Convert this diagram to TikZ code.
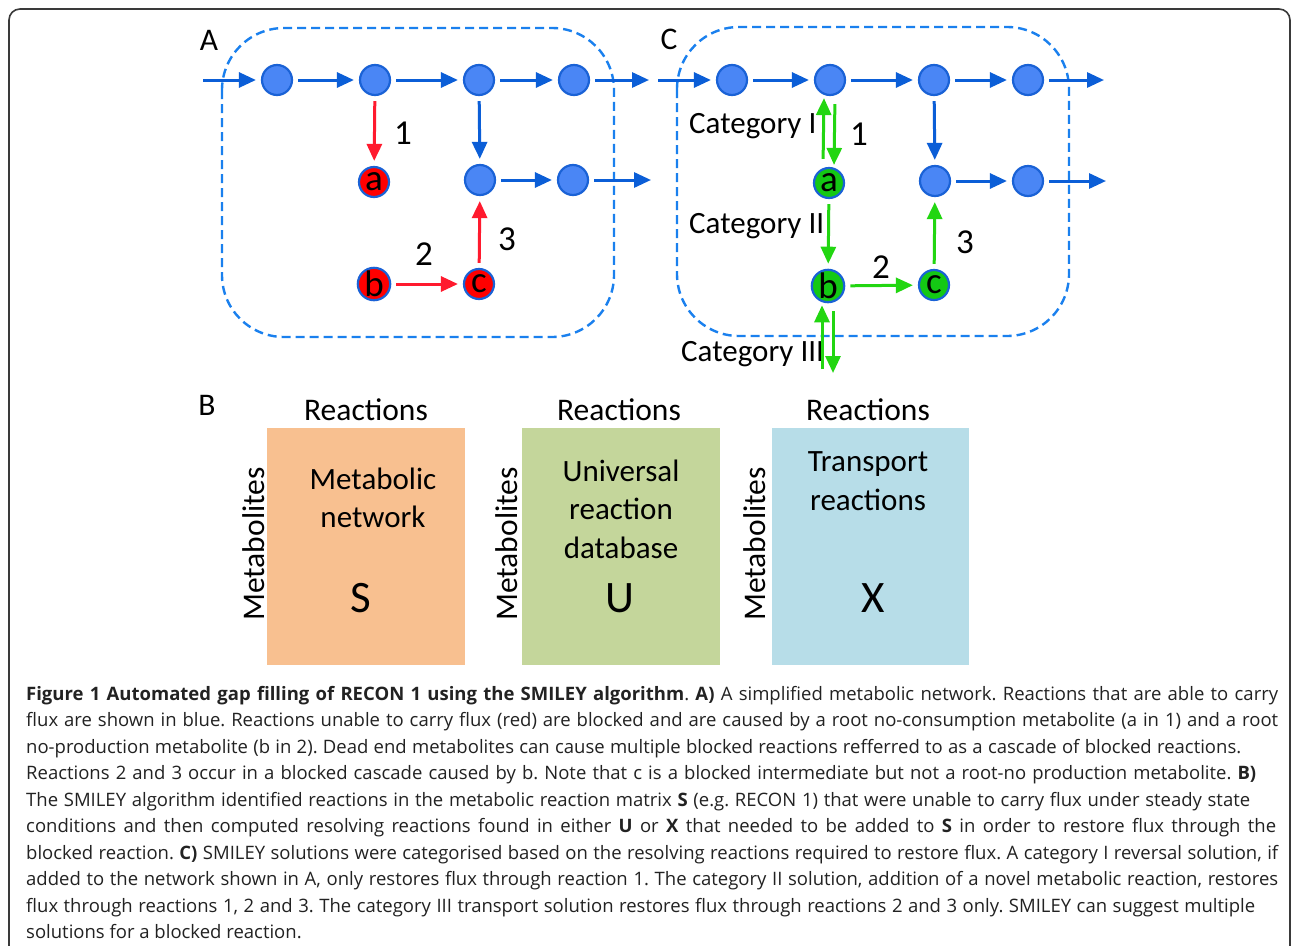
\documentclass[tikz,border=0pt]{standalone}
\usepackage{fontspec}
\setmainfont{Carlito}
\newfontfamily\capfont{Open Sans}
\usetikzlibrary{arrows.meta}
\frenchspacing
\definecolor{bfill}{HTML}{4A86F5}
\definecolor{bline}{HTML}{1A62D6}
\definecolor{barr}{HTML}{0B5ED7}
\definecolor{rarr}{HTML}{FF1A2E}
\definecolor{garr}{HTML}{22D611}
\definecolor{gfill}{HTML}{14C814}
\definecolor{dash}{HTML}{1A80EE}
\definecolor{orbox}{HTML}{F8C090}
\definecolor{grbox}{HTML}{C4D69B}
\definecolor{blbox}{HTML}{B7DDE8}
\definecolor{frame}{HTML}{3A3A3A}
\definecolor{captext}{HTML}{222222}
\tikzset{
  met/.style={circle,minimum size=30pt,inner sep=0pt,draw=bline,line width=2.2pt,fill=bfill},
  redmet/.style={met,fill=red,font=\fontsize{37}{37}\selectfont,text=black},
  grnmet/.style={met,fill=gfill,font=\fontsize{37}{37}\selectfont,text=black},
  tipa/.style={-{Triangle[length=17pt,width=15pt]},line width=3pt,shorten <=5pt,shorten >=5pt},
  barrow/.style={tipa,draw=barr},
  rarrow/.style={tipa,draw=rarr},
  garrow/.style={tipa,draw=garr},
  lbl/.style={font=\fontsize{31.5}{31.5}\selectfont,inner sep=0pt},
  catl/.style={font=\fontsize{31}{31}\selectfont,inner sep=0pt,anchor=west},
  num/.style={font=\fontsize{35}{35}\selectfont,inner sep=0pt},
  region/.style={draw=dash,line width=2.4pt,dash pattern=on 9pt off 5pt,rounded corners=62pt},
  capline/.style={anchor=base west,inner sep=0pt,text=captext,font=\capfont\fontsize{18.5}{18.5}\selectfont},
}
\newcommand{\cl}[2]{\makebox[#1pt][s]{#2}}
\begin{document}
\begin{tikzpicture}[x=1pt,y=-1pt]
\useasboundingbox (0,0) rectangle (1292,945);
\fill[white] (0,0) rectangle (1292,945);
% frame
\draw[frame,line width=1.6pt,rounded corners=11pt] (9,946) -- (9,9) -- (1290,9) -- (1290,946);

% ===== Panel A =====
\draw[region] (222,28) rectangle (614,337);
\node[lbl] (labA) at (209,40) {A};
\node[met] (a1) at (277,80) {};
\node[met] (a2) at (375,80) {};
\node[met] (a3) at (479,80) {};
\node[met] (a4) at (574,80) {};
\node[met] (a5) at (480,180) {};
\node[met] (a6) at (573,180) {};
\node[redmet] (aa) at (374,182) {a};
\node[redmet] (ab) at (374,284) {b};
\node[redmet] (ac) at (479,284) {c};
\coordinate (ain) at (203,80);
\coordinate (aout1) at (649,80);
\coordinate (aout2) at (651,180);
\draw[barrow,shorten <=0pt] (ain) -- (a1);
\draw[barrow] (a1) -- (a2);
\draw[barrow] (a2) -- (a3);
\draw[barrow] (a3) -- (a4);
\draw[barrow,shorten >=0pt] (a4) -- (aout1);
\draw[barrow] (a3) -- (a5);
\draw[barrow] (a5) -- (a6);
\draw[barrow,shorten >=0pt] (a6) -- (aout2);
\draw[rarrow] (a2) -- (aa);
\draw[rarrow] (ab) -- (ac);
\draw[rarrow] (ac) -- (a5);
\node[num] (n1A) at (403,133) {1};
\node[num] (n2A) at (424,254) {2};
\node[num] (n3A) at (507,239) {3};

% ===== Panel C =====
\draw[region] (677,27) rectangle (1069,336);
\node[lbl] (labC) at (669,39) {C};
\node[met] (c1) at (732,80) {};
\node[met] (c2) at (830,80) {};
\node[met] (c3) at (934,80) {};
\node[met] (c4) at (1028,80) {};
\node[met] (c5) at (935,181) {};
\node[met] (c6) at (1028,181) {};
\node[grnmet] (ca) at (829,183) {a};
\node[grnmet] (cb) at (828,286) {b};
\node[grnmet] (cc) at (934,285) {c};
\coordinate (cin) at (658,80);
\coordinate (cout1) at (1104,80);
\coordinate (cout2) at (1106,181);
\coordinate (c3up) at (822,369);
\coordinate (c3dn) at (833,373);
\draw[barrow,shorten <=0pt] (cin) -- (c1);
\draw[barrow] (c1) -- (c2);
\draw[barrow] (c2) -- (c3);
\draw[barrow] (c3) -- (c4);
\draw[barrow,shorten >=0pt] (c4) -- (cout1);
\draw[barrow] (c3) -- (c5);
\draw[barrow] (c5) -- (c6);
\draw[barrow,shorten >=0pt] (c6) -- (cout2);
\node[catl] (cat1) at (689,126) {Category I};
\node[catl] (cat2) at (689,226) {Category II};
\node[catl] (cat3) at (681,354) {Category III};
\draw[garrow,shorten <=8pt,shorten >=2pt] ([xshift=-6pt]ca.north) -- ([xshift=-6pt]c2.south);
\draw[garrow,shorten <=8pt,shorten >=2pt] ([xshift=5pt]c2.south) -- ([xshift=5pt]ca.north);
\draw[garrow] (ca) -- (cb);
\draw[garrow] (cb) -- (cc);
\draw[garrow] (cc) -- (c5);
\draw[garrow,shorten <=0pt,shorten >=2pt] (c3up) -- ([xshift=-6pt]cb.south);
\draw[garrow,shorten <=8pt,shorten >=0pt] ([xshift=5pt]cb.south) -- (c3dn);
\node[num] (n1C) at (859,134) {1};
\node[num] (n2C) at (881,267) {2};
\node[num] (n3C) at (965,242) {3};

% ===== Panel B =====
\node[lbl] (labB) at (207,405) {B};
\fill[orbox] (267,428) rectangle (465,665);
\fill[grbox] (522,428) rectangle (720,665);
\fill[blbox] (772,428) rectangle (969,665);
\node[lbl] (r1) at (366,410) {Reactions};
\node[lbl] (r2) at (619,410) {Reactions};
\node[lbl] (r3) at (868,410) {Reactions};
\node[lbl,rotate=90] (m1) at (254,544) {Metabolites};
\node[lbl,rotate=90] (m2) at (507,544) {Metabolites};
\node[lbl,rotate=90] (m3) at (755,544) {Metabolites};
\node[lbl,align=center,font=\fontsize{31}{38.5}\selectfont] (t1) at (373,498) {Metabolic\\network};
\node[lbl,align=center,font=\fontsize{31}{38.5}\selectfont] (t2) at (621,509) {Universal\\reaction\\database};
\node[lbl,align=center,font=\fontsize{31}{38.5}\selectfont] (t3) at (868,481) {Transport\\reactions};
\node[lbl,font=\fontsize{45}{45}\selectfont] (sS) at (361,598) {S};
\node[lbl,font=\fontsize{45}{45}\selectfont] (sU) at (620,598) {U};
\node[lbl,font=\fontsize{45}{45}\selectfont] (sX) at (873,598) {X};

% ===== Caption =====
\node[capline] (l1) at (26,700) {\cl{1252}{\textbf{Figure 1 Automated gap filling of RECON 1 using the SMILEY algorithm}. \textbf{A)} A simplified metabolic network. Reactions that are able to carry}};
\node[capline] (l2) at (26,726.5) {\cl{1252}{flux are shown in blue. Reactions unable to carry flux (red) are blocked and are caused by a root no-consumption metabolite (a in 1) and a root}};
\node[capline] (l3) at (26,753) {\cl{1215}{no-production metabolite (b in 2). Dead end metabolites can cause multiple blocked reactions refferred to as a cascade of blocked reactions.}};
\node[capline] (l4) at (26,779.5) {\cl{1230}{Reactions 2 and 3 occur in a blocked cascade caused by b. Note that c is a blocked intermediate but not a root-no production metabolite. \textbf{B)}}};
\node[capline] (l5) at (26,806) {\cl{1224}{The SMILEY algorithm identified reactions in the metabolic reaction matrix \textbf{S} (e.g. RECON 1) that were unable to carry flux under steady state}};
\node[capline] (l6) at (26,832.5) {\cl{1250}{conditions and then computed resolving reactions found in either \textbf{U} or \textbf{X} that needed to be added to \textbf{S} in order to restore flux through the}};
\node[capline] (l7) at (26,859) {\cl{1252}{blocked reaction. \textbf{C)} SMILEY solutions were categorised based on the resolving reactions required to restore flux. A category I reversal solution, if}};
\node[capline] (l8) at (26,885.5) {\cl{1252}{added to the network shown in A, only restores flux through reaction 1. The category II solution, addition of a novel metabolic reaction, restores}};
\node[capline] (l9) at (26,912) {\cl{1229}{flux through reactions 1, 2 and 3. The category III transport solution restores flux through reactions 2 and 3 only. SMILEY can suggest multiple}};
\node[capline] (l10) at (26,938.5) {solutions for a blocked reaction.};
\end{tikzpicture}
\end{document}
